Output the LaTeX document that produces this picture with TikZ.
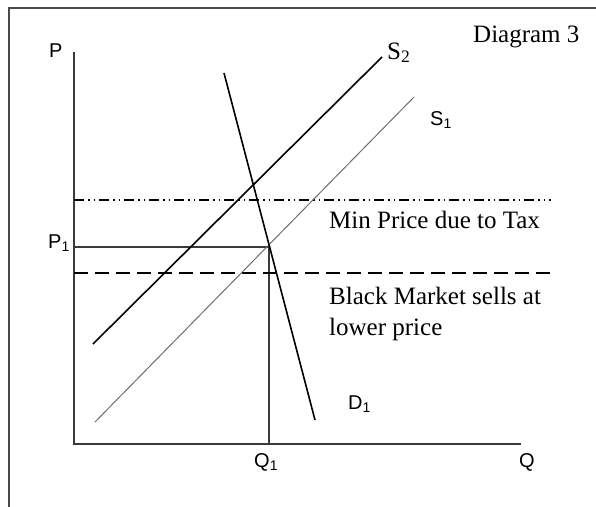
\documentclass[tikz,border=0pt]{standalone}
\usepackage{fontspec}
\setmainfont{Liberation Serif}
\setsansfont{Liberation Sans}
\usepackage{tikz}
\usetikzlibrary{positioning}
\definecolor{framegray}{HTML}{4A4A4A}
\definecolor{axisgray}{HTML}{3A3A3A}
\definecolor{supplygray}{HTML}{6E6E6E}

\begin{document}
\begin{tikzpicture}[x=1pt, y=-1pt,
  frameline/.style={line width=2pt, framegray},
  axisline/.style={line width=1.6pt, axisgray},
  curve/.style={line width=1.6pt, black},
  curvethin/.style={line width=1pt, supplygray},
  taxline/.style={line width=1.3pt, black, dash pattern=on 10pt off 4pt on 1.5pt off 4pt on 1.5pt off 4pt},
  blackline/.style={line width=1.8pt, black, dash pattern=on 14pt off 7pt},
  axislabel/.style={inner sep=0pt, anchor=base west, font=\sffamily\fontsize{20}{22}\selectfont},
  note/.style={inner sep=0pt, anchor=base west, font=\fontsize{25}{31}\selectfont}
]
  \useasboundingbox (0,0) rectangle (596,506);
  \clip (0,0) rectangle (596,506);
  % frame (only top and left edges show)
  \coordinate (frameTL) at (9,8);
  \coordinate (frameTR) at (610,8);
  \coordinate (frameBL) at (9,520);
  \draw[frameline] (frameTR) -- (frameTL) -- (frameBL);

  % axes
  \coordinate (origin) at (74,444);
  \coordinate (ptop)   at (74,52);
  \coordinate (qend)   at (521,444);
  \draw[axisline] (ptop) -- (origin) -- (qend);

  % equilibrium
  \coordinate (eq)   at (269,247);
  \coordinate (p1)   at (74,247);
  \coordinate (q1)   at (269,444);
  \draw[axisline] (p1) -- (eq) -- (q1);

  % price lines
  \coordinate (taxL) at (74,200);
  \coordinate (taxR) at (551,200);
  \draw[taxline] (taxL) -- (taxR);
  \coordinate (blkL) at (74,273);
  \coordinate (blkR) at (552,273);
  \draw[blackline] (blkL) -- (blkR);

  % curves
  \coordinate (s2a) at (93,344);
  \coordinate (s2b) at (382,57);
  \draw[curve] (s2a) -- (s2b);
  \coordinate (s1a) at (95,422);
  \coordinate (s1b) at (414,97);
  \draw[curvethin] (s1a) -- (s1b);
  \coordinate (d1a) at (224,73);
  \coordinate (d1b) at (315,420);
  \draw[curve] (d1a) -- (d1b);

  % labels
  \node[axislabel] (labP)  at (49,57)   {P};
  \node[axislabel] (labP1) at (48,248)  {P\textsubscript{1}};
  \node[axislabel] (labQ1) at (254,467) {Q\textsubscript{1}};
  \node[axislabel] (labQ)  at (519,467) {Q};
  \node[axislabel] (labS1) at (430,125) {S\textsubscript{1}};
  \node[axislabel] (labD1) at (348,409) {D\textsubscript{1}};
  \node[note] (labS2)  at (387,59)  {S\textsubscript{2}};
  \node[note] (title)  at (473,42)  {Diagram 3};
  \node[note] (taxtxt) at (329,228) {Min Price due to Tax};
  \node[note, anchor=north west, align=left] (blktxt) at (329,287) {Black Market sells at\\lower price};
\end{tikzpicture}
\end{document}
